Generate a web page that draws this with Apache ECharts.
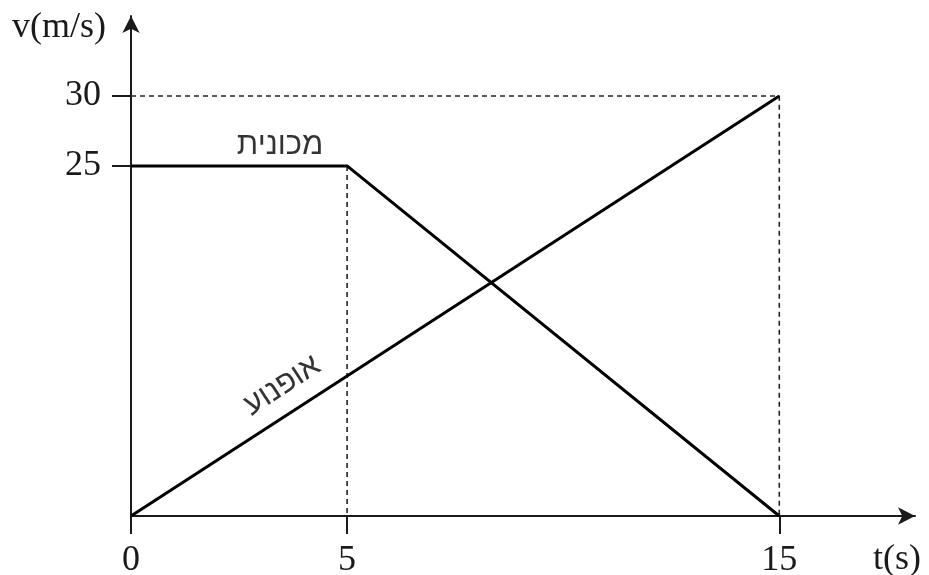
<!DOCTYPE html>
<html>
  <head>
    <meta charset="utf-8" />
    <title>v-t graph</title>
    <script src="https://cdn.jsdelivr.net/npm/echarts@6/dist/echarts.min.js"></script>
    <style>
      * {
        padding: 0;
        margin: 0;
      }
      #chart-panel {
        width: 929px;
        height: 575px;
        background: #fff;
      }
    </style>
  </head>
  <body>
    <div id="chart-panel"></div>
    <script type="text/javascript">
      // data
      const carPoints = [[0, 25], [5, 25], [15, 0]];
      const bikePoints = [[0, 0], [15, 30]];
      const xTicks = [0, 5, 15];
      const yTicks = [25, 30];
      const guide30 = [[0, 30], [15, 30], [15, 0]];
      const guide5 = [[5, 25], [5, 0]];
      const carName = "מכונית";
      const bikeName = "אופנוע";

      var myChart = echarts.init(document.getElementById("chart-panel"));

      var serif = '"Liberation Serif", "DejaVu Serif", serif';
      var hebFont = '"Liberation Sans", "DejaVu Sans", sans-serif';
      var ink = "#1a1a1a";

      var option = {
        animation: false,
        backgroundColor: "#fff",
        grid: {
          left: 131,
          right: 14,
          top: 16,
          bottom: 59,
          outerBoundsMode: "none",
          containLabel: false,
        },
        xAxis: {
          type: "value",
          min: 0,
          max: 18.14,
          splitLine: { show: false },
          axisLine: {
            lineStyle: { color: ink, width: 2 },
            symbol: ["none", "arrow"],
            symbolSize: [13, 17],
          },
          axisTick: {
            customValues: xTicks,
            length: 18,
            lineStyle: { color: ink, width: 2 },
          },
          axisLabel: {
            customValues: xTicks,
            margin: 27,
            fontFamily: serif,
            fontSize: 36,
            color: ink,
          },
        },
        yAxis: {
          type: "value",
          min: 0,
          max: 35.71,
          splitLine: { show: false },
          axisLine: {
            lineStyle: { color: ink, width: 2 },
            symbol: ["none", "arrow"],
            symbolSize: [13, 17],
          },
          axisTick: {
            customValues: yTicks,
            length: 19,
            lineStyle: { color: ink, width: 2 },
          },
          axisLabel: {
            customValues: yTicks,
            margin: 30,
            fontFamily: serif,
            fontSize: 36,
            color: ink,
          },
        },
        graphic: [
          {
            type: "text",
            left: 12,
            top: 10,
            style: {
              text: "v(m/s)",
              fontFamily: serif,
              fontSize: 36,
              fill: ink,
            },
          },
          {
            type: "text",
            left: 873,
            top: 542,
            style: {
              text: "t(s)",
              fontFamily: serif,
              fontSize: 36,
              fill: ink,
            },
          },
        ],
        series: [
          {
            type: "line",
            data: guide30,
            symbol: "none",
            lineStyle: { color: "#222", width: 1.6, type: [5, 4] },
            silent: true,
          },
          {
            type: "line",
            data: guide5,
            symbol: "none",
            lineStyle: { color: "#222", width: 1.6, type: [5, 4] },
            silent: true,
          },
          {
            name: carName,
            type: "line",
            data: carPoints,
            symbol: "none",
            lineStyle: { color: "#000", width: 3 },
          },
          {
            name: bikeName,
            type: "line",
            data: bikePoints,
            symbol: "none",
            lineStyle: { color: "#000", width: 3 },
          },
          {
            // hebrew labels next to the lines
            type: "scatter",
            symbolSize: 0,
            silent: true,
            data: [
              {
                name: carName,
                value: [3.45, 25],
                label: { position: "top", distance: 5 },
              },
              {
                name: bikeName,
                value: [3.5, 9.3],
                label: { position: "inside", rotate: 33 },
              },
            ],
            label: {
              show: true,
              formatter: "{b}",
              fontFamily: hebFont,
              fontSize: 31,
              color: "#000",
            },
          },
        ],
      };

      if (option && typeof option === "object") {
        myChart.setOption(option);
      }
      window.addEventListener("resize", myChart.resize);
    </script>
  </body>
</html>
